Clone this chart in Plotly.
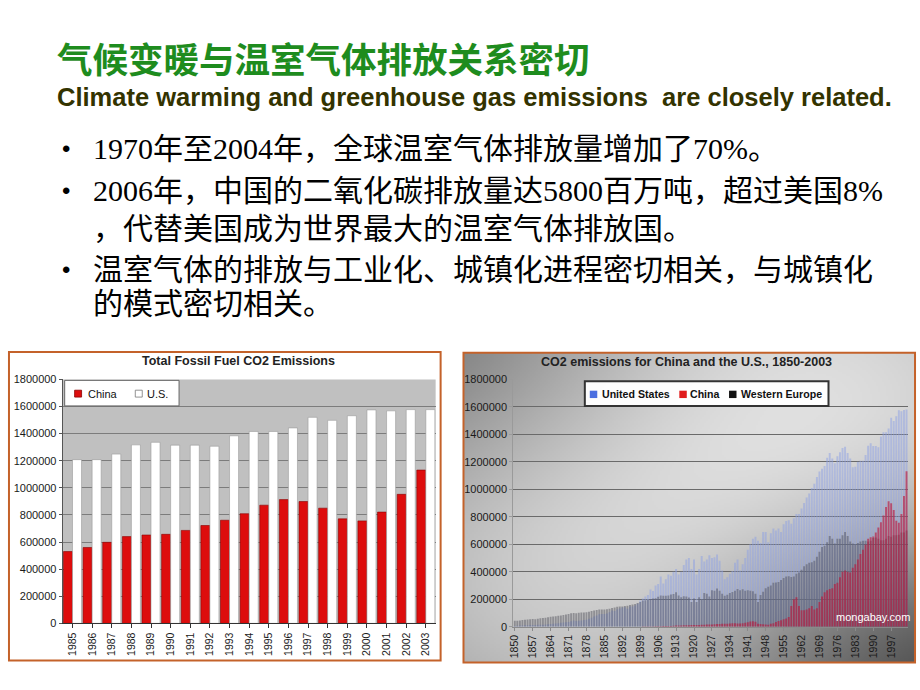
import base64, struct, zlib
import numpy as np
import plotly.graph_objects as go

# ---------------- data ----------------
left_years = [str(y) for y in range(1985, 2004)]
left_china = [530, 560, 598, 640, 652, 657, 686, 722, 761, 809, 872, 913, 899, 850, 771, 756, 821, 952, 1131]
left_us = [1208, 1208, 1249, 1317, 1336, 1315, 1315, 1307, 1384, 1416, 1416, 1442, 1520, 1498, 1532, 1575, 1568, 1577, 1577]

right_years = list(range(1850, 2004))
right_us = [
    6, 7, 8, 9, 10, 11, 12, 13, 13, 14,
    15, 15, 16, 18, 20, 21, 24, 26, 28, 30,
    32, 35, 40, 45, 42, 44, 46, 49, 50, 58,
    66, 74, 82, 90, 92, 92, 96, 106, 118, 114,
    126, 132, 140, 142, 130, 148, 148, 154, 168, 190,
    205, 220, 230, 270, 260, 300, 310, 365, 315, 345,
    380, 370, 400, 420, 380, 400, 450, 490, 500, 420,
    490, 380, 420, 515, 475, 490, 520, 500, 505, 525,
    480, 410, 345, 360, 385, 405, 465, 490, 410, 455,
    500, 560, 600, 640, 655, 625, 610, 690, 690, 615,
    680, 715, 700, 715, 690, 745, 770, 775, 750, 790,
    820, 820, 860, 900, 940, 970, 1010, 1040, 1090, 1130,
    1150, 1170, 1230, 1265, 1225, 1190, 1240, 1270, 1300, 1310,
    1265, 1225, 1160, 1165, 1200, 1208, 1208, 1249, 1317, 1336,
    1315, 1315, 1307, 1384, 1416, 1416, 1442, 1520, 1498, 1532,
    1575, 1568, 1577, 1580,
]
right_weurope = [
    43, 44, 46, 48, 50, 52, 55, 56, 55, 58,
    62, 64, 65, 68, 72, 75, 77, 80, 82, 86,
    88, 92, 98, 100, 98, 102, 103, 104, 105, 108,
    115, 118, 122, 125, 126, 125, 127, 131, 136, 140,
    145, 148, 147, 150, 152, 158, 162, 166, 172, 180,
    190, 192, 195, 202, 205, 208, 218, 228, 225, 226,
    228, 235, 238, 250, 228, 215, 222, 220, 212, 180,
    205, 180, 215, 200, 245, 240, 220, 265, 262, 278,
    262, 240, 225, 232, 245, 252, 262, 275, 265, 272,
    262, 265, 262, 258, 240, 180, 230, 255, 280, 290,
    300, 320, 322, 325, 340, 355, 365, 368, 362, 365,
    385, 395, 415, 440, 455, 465, 470, 480, 510, 545,
    580, 590, 615, 660, 640, 605, 640, 640, 665, 690,
    660, 620, 605, 600, 610, 620, 625, 625, 620, 625,
    645, 650, 640, 630, 630, 640, 660, 655, 665, 665,
    670, 685, 685, 700,
]
right_china = [0] * 50 + [
    1, 1, 2, 2, 2, 3, 3, 4, 5, 5,
    6, 6, 7, 8, 8, 9, 10, 10, 11, 12,
    13, 12, 13, 14, 15, 16, 16, 17, 18, 19,
    20, 21, 22, 22, 23, 25, 26, 24, 24, 25,
    28, 32, 38, 40, 36, 22, 20, 18, 16, 14,
    21, 25, 35, 42, 47, 55, 60, 70, 150, 200,
    215, 150, 120, 120, 125, 135, 150, 125, 135, 180,
    220, 250, 265, 275, 280, 310, 320, 360, 400, 410,
    400, 395, 430, 455, 490, 530, 560, 598, 640, 652,
    657, 686, 722, 761, 809, 872, 913, 899, 850, 771,
    756, 821, 952, 1131,
]
right_ticks = list(range(1850, 2004, 7))

left_legend = [("China", "#dd0d0d"), ("U.S.", "#ffffff")]
right_legend = [("United States", "#4a6ee0"), ("China", "#e01c1c"), ("Western Europe", "#111111")]

K = 1000
W_, H_ = 920, 690
def px(x): return x / W_
def py(y): return 1 - y / H_

# ---------------- gradient background (style only) ----------------
gw, gh = 226, 156
u = np.linspace(0, 1, gw)[None, :]
v = np.linspace(0, 1, gh)[:, None]
r2 = ((u - 0.55) / 0.6) ** 2 + ((v - 0.4) / 0.65) ** 2
b = 255 - 40 * r2 - 70 * np.exp(-(u ** 2 + v ** 2) / 0.35) - 110 * np.exp(-((1 - u) ** 2 + (1 - v) ** 2) / 0.3)
b = np.clip(b, 0, 255).astype(np.uint8)
img = np.stack([b, b, b], axis=2)

def png_bytes(arr):
    h, w, _ = arr.shape
    raw = b"".join(b"\x00" + arr[y].tobytes() for y in range(h))
    def chunk(t, d):
        return struct.pack(">I", len(d)) + t + d + struct.pack(">I", zlib.crc32(t + d) & 0xFFFFFFFF)
    return (b"\x89PNG\r\n\x1a\n" + chunk(b"IHDR", struct.pack(">IIBBBBB", w, h, 8, 2, 0, 0, 0))
            + chunk(b"IDAT", zlib.compress(raw, 9)) + chunk(b"IEND", b""))

grad_src = "data:image/png;base64," + base64.b64encode(png_bytes(img)).decode()

# ---------------- figure ----------------
fig = go.Figure()

# left chart: grouped bars via offsets
fig.add_trace(go.Bar(x=left_years, y=[c * K for c in left_china], name="China",
                     marker=dict(color=left_legend[0][1], line=dict(color="#8a0000", width=0.6)),
                     width=0.46, offset=-0.46, xaxis="x", yaxis="y"))
fig.add_trace(go.Bar(x=left_years, y=[c * K for c in left_us], name="U.S.",
                     marker=dict(color=left_legend[1][1], line=dict(color="#9a9a9a", width=0.6)),
                     width=0.46, offset=0.0, xaxis="x", yaxis="y"))

# right chart: overlaid translucent bars
fig.add_trace(go.Bar(x=right_years, y=[c * K for c in right_us], name="United States",
                     marker=dict(color="rgba(140,160,230,0.5)", line=dict(width=0)),
                     width=0.75, xaxis="x2", yaxis="y2"))
fig.add_trace(go.Bar(x=right_years, y=[c * K for c in right_weurope], name="Western Europe",
                     marker=dict(color="rgba(70,70,82,0.45)", line=dict(width=0)),
                     width=0.75, xaxis="x2", yaxis="y2"))
fig.add_trace(go.Bar(x=right_years, y=[c * K for c in right_china], name="China",
                     marker=dict(color="rgba(190,20,55,0.62)", line=dict(width=0)),
                     width=0.75, xaxis="x2", yaxis="y2"))

tickfont = dict(family="Liberation Sans, Arial", size=11, color="#1a1a1a")

fig.update_layout(
    width=W_, height=H_, margin=dict(l=0, r=0, t=0, b=0),
    paper_bgcolor="white", plot_bgcolor="rgba(0,0,0,0)",
    barmode="overlay", showlegend=False,
    font=dict(family="Liberation Sans, Arial"),
    xaxis=dict(domain=[px(58), px(433)], anchor="y", type="category", range=[-0.5, 18.5],
               tickangle=-90, tickfont=dict(family="Liberation Sans, Arial", size=10.5, color="#1a1a1a"),
               showline=True, linecolor="#333", linewidth=1, ticks="outside", ticklen=4,
               tickcolor="#333", showgrid=False),
    yaxis=dict(domain=[py(628.3), py(380)], anchor="x", range=[0, 1800000], dtick=200000,
               tickformat="d", tickfont=tickfont, gridcolor="#7c7c7c", gridwidth=1,
               showline=True, linecolor="#555", ticks="outside", ticklen=3, tickcolor="#555",
               zeroline=False),
    xaxis2=dict(domain=[px(511), px(908)], anchor="y2", range=[1849.4, 2003.6],
                tickvals=right_ticks, ticktext=[str(t) for t in right_ticks], tickangle=-90,
                tickfont=dict(family="Liberation Sans, Arial", size=10.5, color="#1a1a1a"),
                showline=True, linecolor="#8a8a8a", ticks="outside", ticklen=3, tickcolor="#8a8a8a",
                showgrid=False),
    yaxis2=dict(domain=[py(631.7), py(380)], anchor="x2", range=[0, 1800000], dtick=200000,
                tickformat="d", tickfont=tickfont, gridcolor="#6a6a6a", gridwidth=1,
                showline=True, linecolor="#9a9a9a", ticks="outside", ticklen=3, tickcolor="#9a9a9a",
                zeroline=False),
    images=[dict(source=grad_src, xref="paper", yref="paper", x=px(461), y=py(353),
                 sizex=px(915) - px(461), sizey=(668 - 353) / H_, sizing="stretch",
                 xanchor="left", yanchor="top", layer="below")],
)

shapes = [
    dict(type="rect", xref="paper", yref="paper", x0=px(4), x1=px(438), y0=py(666), y1=py(352),
         fillcolor="white", line=dict(color="#c4622a", width=2), layer="below"),
    dict(type="rect", xref="x domain", yref="y domain", x0=0, x1=1, y0=0, y1=1,
         fillcolor="#c0c0c0", line=dict(width=0), layer="below"),
    dict(type="rect", xref="paper", yref="paper", x0=px(461), x1=px(915), y0=py(668), y1=py(353),
         fillcolor="rgba(0,0,0,0)", line=dict(color="#c4622a", width=2), layer="above"),
    dict(type="rect", xref="paper", yref="paper", x0=px(60), x1=px(175), y0=py(407), y1=py(381),
         fillcolor="white", line=dict(color="#666", width=1), layer="above"),
    dict(type="rect", xref="paper", yref="paper", x0=px(583), x1=px(828), y0=py(407), y1=py(382),
         fillcolor="rgba(255,255,255,0.96)", line=dict(color="#333", width=2), layer="above"),
]

ann = []
left_key_x = [(70, 81), (131, 141)]
for (nm, col), (sx, tx) in zip(left_legend, left_key_x):
    shapes.append(dict(type="rect", xref="paper", yref="paper", x0=px(sx), x1=px(sx + 7),
                       y0=py(398), y1=py(391), fillcolor=col,
                       line=dict(color="#8a0000" if nm == "China" else "#777", width=0.8), layer="above"))
    ann.append(dict(text=nm, x=px(tx), y=py(394.5), xref="paper", yref="paper", xanchor="left",
                    yanchor="middle", showarrow=False,
                    font=dict(family="Liberation Sans, Arial", size=11, color="#111")))
right_key_x = [(588, 598), (678, 687), (728, 738)]
for (nm, col), (sx, tx) in zip(right_legend, right_key_x):
    shapes.append(dict(type="rect", xref="paper", yref="paper", x0=px(sx), x1=px(sx + 7.5),
                       y0=py(399), y1=py(391.5), fillcolor=col, line=dict(width=0), layer="above"))
    ann.append(dict(text="<b>" + nm + "</b>", x=px(tx), y=py(395), xref="paper", yref="paper",
                    xanchor="left", yanchor="middle", showarrow=False,
                    font=dict(family="Liberation Sans, Arial", size=10.6, color="#111")))
fig.update_layout(shapes=shapes)

ann.append(dict(text="<b>气候变暖与温室气体排放关系密切</b>", x=px(50), y=py(52), xref="paper", yref="paper",
                xanchor="left", yanchor="middle", showarrow=False,
                font=dict(family="Noto Sans CJK SC", size=35.5, color="#1e8c1e")))
ann.append(dict(text="<b>Climate warming and greenhouse gas emissions  are closely related.</b>",
                x=px(50), y=py(93), xref="paper", yref="paper", xanchor="left", yanchor="middle",
                showarrow=False, font=dict(family="Liberation Sans, Arial", size=25.5, color="#333300")))
body_font = dict(family="Liberation Serif, Noto Sans CJK SC", size=30, color="#000000")
lines = [
    (145, True, "1970年至2004年，全球温室气体排放量增加了70%。"),
    (188, True, "2006年，中国的二氧化碳排放量达5800百万吨，超过美国8%"),
    (226, False, "，代替美国成为世界最大的温室气体排放国。"),
    (268, True, "温室气体的排放与工业化、城镇化进程密切相关，与城镇化"),
    (303, False, "的模式密切相关。"),
]
for yy, bullet, txt in lines:
    if bullet:
        ann.append(dict(text="•", x=px(55), y=py(yy), xref="paper", yref="paper", xanchor="left",
                        yanchor="middle", showarrow=False,
                        font=dict(family="Liberation Sans, Arial", size=24, color="#000")))
    ann.append(dict(text=txt, x=px(86), y=py(yy), xref="paper", yref="paper", xanchor="left",
                    yanchor="middle", showarrow=False, font=body_font))
ann.append(dict(text="<b>Total Fossil Fuel CO2 Emissions</b>", x=px(235), y=py(361), xref="paper", yref="paper",
                xanchor="center", yanchor="middle", showarrow=False,
                font=dict(family="Liberation Sans, Arial", size=12.5, color="#222")))
ann.append(dict(text="<b>CO2 emissions for China and the U.S., 1850-2003</b>", x=px(685), y=py(362),
                xref="paper", yref="paper", xanchor="center", yanchor="middle", showarrow=False,
                font=dict(family="Liberation Sans, Arial", size=12.5, color="#222")))
ann.append(dict(text="mongabay.com", x=px(873), y=py(622), xref="paper", yref="paper",
                xanchor="center", yanchor="middle", showarrow=False,
                font=dict(family="Liberation Sans, Arial", size=11, color="white")))
fig.update_layout(annotations=ann)

fig.write_html("out.html")
